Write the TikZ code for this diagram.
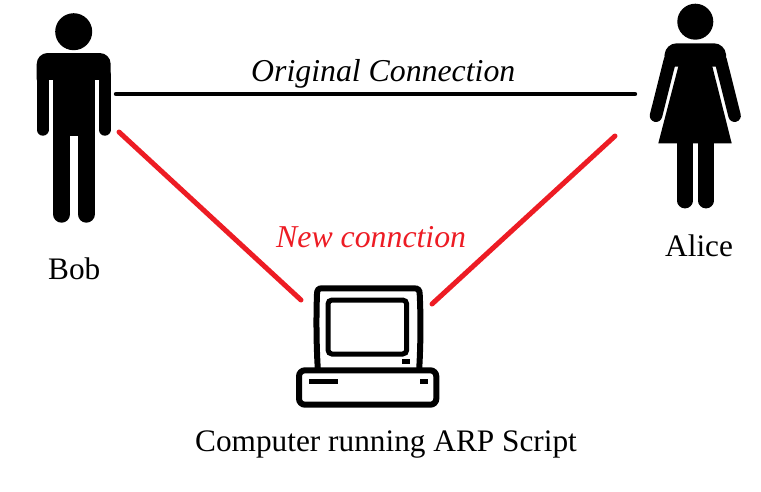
\documentclass[tikz,border=0pt]{standalone}
\usepackage{fontspec}
\setmainfont{Liberation Serif}
\definecolor{linkred}{HTML}{ED1C24}
\tikzset{
  figure/.style={fill=black, draw=none},
  limb/.style={draw=black, line cap=round},
  caption/.style={anchor=base west, inner sep=0pt, font=\fontsize{31.3}{36}\selectfont},
  slanted/.style={anchor=base west, inner sep=0pt, font=\fontsize{31.8}{36}\selectfont\itshape},
  linkblack/.style={draw=black, line width=4.4, line cap=round},
  linkredline/.style={draw=linkred, line width=5, line cap=round},
  outline/.style={draw=black, line width=6, fill=white}
}
\begin{document}
\begin{tikzpicture}[x=1pt, y=-1pt]
            \useasboundingbox (0,0) rectangle (761,491);
            \coordinate (bobmid) at (116,94);
            \coordinate (alicemid) at (635,94);
            \coordinate (bobhand) at (119,132);
            \coordinate (pcleft) at (301,300);
            \coordinate (alicehand) at (615,136);
            \coordinate (pcright) at (432,304);

            \fill[figure] (73.7,31.7) circle (18.5);
            \fill[figure, rounded corners=11] (36.7,53) -- (110.7,53) -- (110.7,90) -- (36.7,90) -- cycle;
            \fill[figure] (53.3,70) rectangle (94.7,136);
            \fill[white] (48.7,80) rectangle (53.3,92);
            \fill[white] (94.7,80) rectangle (98.7,92);
            \draw[limb, line width=12] (42.7,75) -- (42.7,129.7);
            \draw[limb, line width=12] (104.7,75) -- (104.7,129.7);
            \draw[limb, line width=17.2] (61.7,130) -- (61.7,214.1);
            \draw[limb, line width=17.2] (86.1,130) -- (86.1,214.1);

            \fill[figure] (695.3,21.7) circle (18);
            \fill[figure, rounded corners=11] (665.5,43.3) -- (725.1,43.3) -- (727,66.7) -- (663.6,66.7) -- cycle;
            \draw[limb, line width=12.5] (670,60) -- (656,115.7);
            \draw[limb, line width=12.5] (720.6,60) -- (734.6,115.7);
            \fill[figure] (710.7,60) -- (731.7,143.3) -- (658.3,143.3) -- (680,60) -- cycle;
            \draw[limb, line width=15.4] (685,135) -- (685,200.7);
            \draw[limb, line width=15.4] (706,135) -- (706,200.7);

            \draw[outline] (322,288.3) -- (414,288.3) .. controls (418,288.3) and (419.7,290) .. (419.7,294) .. controls (421,320) and (420.5,350) .. (419,372) -- (318,372) .. controls (316.5,350) and (316,320) .. (317,294) .. controls (317,290) and (318.5,288.3) .. (322,288.3) -- cycle;
            \draw[outline, line width=5, rounded corners=4] (328,300) rectangle (406.7,354);
            \fill[figure] (402,359) rectangle (410.3,364);
            \draw[outline, rounded corners=6] (299,370.3) rectangle (436.3,404.7);
            \fill[figure] (309,379) rectangle (338.3,383.7);
            \fill[figure] (420.3,379) rectangle (428.3,383.7);

            \draw[linkblack] (bobmid) -- (alicemid);
            \draw[linkredline] (bobhand) -- (pcleft);
            \draw[linkredline] (alicehand) -- (pcright);

            \node[caption] (boblabel) at (48,279) {Bob};
            \node[caption] (alicelabel) at (665,256) {Alice};
            \node[caption] (pclabel) at (195,451) {Computer running ARP Script};
            \node[slanted] (origlabel) at (251,81) {Original Connection};
            \node[slanted, text=linkred] (newlabel) at (276,247) {New connction};
\end{tikzpicture}
\end{document}
